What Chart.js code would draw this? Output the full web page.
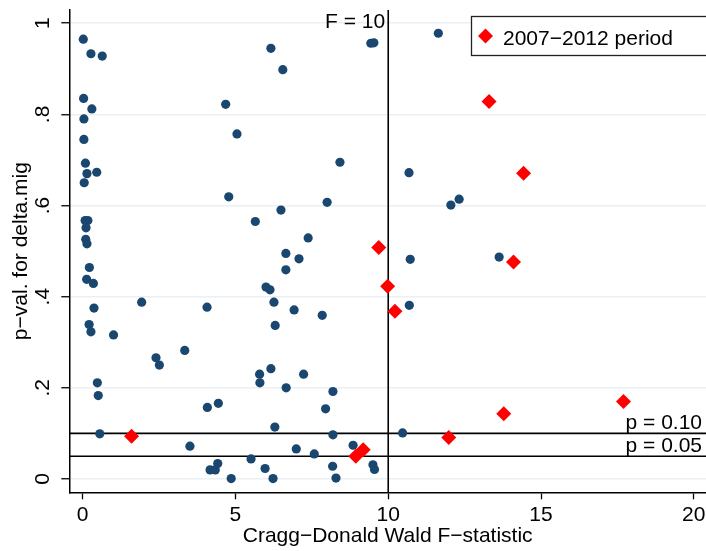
<!DOCTYPE html>
<html>
<head>
<meta charset="UTF-8">
<title>p-val vs Cragg-Donald F</title>
<script src="https://cdn.jsdelivr.net/npm/chart.js@4.4.0/dist/chart.umd.min.js"></script>
<style>
  body { margin: 0; background: #fff; }
  #wrap { width: 706px; height: 551px; }
</style>
</head>
<body>
<div id="wrap"><canvas id="chart" width="706" height="551"></canvas></div>
<script>
// all periods (navy dots)
const blueX = [0.02, 0.27, 0.64, 0.03, 0.30, 0.04, 0.04, 0.09, 0.14, 0.46, 0.05, 4.68, 5.05, 4.78,
  0.08, 0.17, 0.11, 0.10, 0.14, 0.22, 0.13, 0.35, 0.37, 0.21, 0.27, 1.01, 1.93, 0.48, 0.51, 0.56,
  2.40, 2.51, 3.34, 4.07, 4.08, 4.44, 3.51, 4.17, 4.34, 4.42, 4.86, 6.16, 6.55, 9.43, 9.53, 11.64,
  8.42, 10.68, 8.00, 6.49, 5.65, 7.38, 6.65, 7.08, 10.72, 6.65, 6.00, 6.13, 6.26, 10.69, 6.92, 7.84,
  6.30, 5.79, 6.16, 7.23, 5.80, 6.66, 8.19, 7.95, 6.29, 8.19, 10.47, 8.85, 6.99, 7.58, 5.51, 5.97,
  6.23, 8.18, 8.29, 9.50, 9.55, 12.05, 12.32, 13.63];
const blueY = [0.965, 0.933, 0.928, 0.835, 0.812, 0.790, 0.745, 0.693, 0.670, 0.673, 0.650, 0.822, 0.757, 0.619,
  0.567, 0.567, 0.551, 0.526, 0.516, 0.464, 0.438, 0.429, 0.375, 0.339, 0.323, 0.316, 0.388, 0.211, 0.183, 0.099,
  0.266, 0.250, 0.282, 0.377, 0.157, 0.166, 0.072, 0.020, 0.020, 0.034, 0.001, 0.945, 0.898, 0.956, 0.957, 0.978,
  0.695, 0.672, 0.607, 0.590, 0.565, 0.529, 0.495, 0.483, 0.482, 0.459, 0.421, 0.415, 0.388, 0.381, 0.371, 0.359,
  0.337, 0.230, 0.242, 0.230, 0.211, 0.200, 0.192, 0.154, 0.114, 0.097, 0.101, 0.074, 0.066, 0.055, 0.044, 0.023,
  0.001, 0.028, 0.002, 0.031, 0.021, 0.601, 0.614, 0.487];

// 2007-2012 period (red diamonds)
const redX = [1.60, 9.69, 9.98, 10.22, 8.94, 9.18, 13.30, 14.43, 14.10, 17.70, 13.78, 11.98];
const redY = [0.094, 0.508, 0.423, 0.368, 0.050, 0.064, 0.828, 0.671, 0.476, 0.170, 0.143, 0.091];

const xTicks = [0, 5, 10, 15, 20];
const yTicks = [0, 0.2, 0.4, 0.6, 0.8, 1];
const yTickLabels = ['0', '.2', '.4', '.6', '.8', '1'];

const refF = 10;
const refP = [0.10, 0.05];
const refPLabels = ['p = 0.10', 'p = 0.05'];

const xMin = -0.438, xMax = 20.40;
const yMin = -0.0292, yMax = 1.029;

const FONT = '"Liberation Sans", Arial, Helvetica, sans-serif';
Chart.defaults.font.family = FONT;
Chart.defaults.color = '#000';

const toPts = (xs, ys) => xs.map((v, i) => ({x: v, y: ys[i]}));

// F = 10 and p = .10 / .05 reference lines
const refLines = [
  {type: 'line', data: [{x: refF, y: yMin}, {x: refF, y: yMax}], borderColor: '#000', borderWidth: 1.6,
   pointRadius: 0, fill: false}
].concat(refP.map(p => ({
  type: 'line', data: [{x: xMin, y: p}, {x: xMax, y: p}], borderColor: '#000', borderWidth: 1.6,
  pointRadius: 0, fill: false
})));

const annot = {
  id: 'annot',
  afterDraw(chart) {
    const {ctx, chartArea} = chart;
    const x = chart.scales.x, y = chart.scales.y;
    ctx.save();
    ctx.font = '21px ' + FONT;
    ctx.fillStyle = '#000';
    ctx.textAlign = 'right';
    ctx.textBaseline = 'alphabetic';
    ctx.fillText('F = 10', x.getPixelForValue(refF) - 3, chartArea.top + 18);
    refP.forEach((p, i) => {
      ctx.fillText(refPLabels[i], chartArea.right - 4, y.getPixelForValue(p) - 4);
    });

    // legend box (runs off the right edge like the original)
    ctx.fillStyle = '#fff';
    ctx.fillRect(471.5, 16.5, 250, 39);
    ctx.strokeStyle = '#222';
    ctx.lineWidth = 1.3;
    ctx.strokeRect(471.5, 16.5, 250, 39);
    ctx.fillStyle = '#ff0000';
    ctx.beginPath();
    ctx.moveTo(485.5 - 7.5, 36);
    ctx.lineTo(485.5, 36 - 7.5);
    ctx.lineTo(485.5 + 7.5, 36);
    ctx.lineTo(485.5, 36 + 7.5);
    ctx.closePath();
    ctx.fill();
    ctx.fillStyle = '#000';
    ctx.textAlign = 'left';
    ctx.fillText('2007\u22122012 period', 503, 45);
    ctx.restore();
  }
};

new Chart(document.getElementById('chart'), {
  type: 'scatter',
  data: {
    datasets: [
      {label: '2007\u22122012 period', data: toPts(redX, redY), pointStyle: 'rectRot', pointRadius: 7.5,
       backgroundColor: '#ff0000', borderWidth: 0},
      {label: 'all', data: toPts(blueX, blueY), pointStyle: 'circle', pointRadius: 4.6,
       backgroundColor: '#1a476f', borderWidth: 0}
    ].concat(refLines)
  },
  options: {
    responsive: false,
    animation: false,
    layout: {autoPadding: false, padding: {top: 10, right: 0, left: 0, bottom: 0}},
    plugins: {legend: {display: false}, tooltip: {enabled: false}},
    scales: {
      x: {
        type: 'linear', min: xMin, max: xMax,
        afterBuildTicks: s => { s.ticks = xTicks.map(v => ({value: v})); },
        afterFit: s => { s.height = 58.7; s.paddingLeft = 0; s.paddingRight = 0; },
        grid: {drawOnChartArea: false, tickColor: '#000', tickLength: 7, tickWidth: 1.3},
        border: {color: '#000', width: 1.5},
        ticks: {font: {size: 21}, padding: 3, maxRotation: 0, autoSkip: false},
        title: {display: true, text: 'Cragg\u2212Donald Wald F\u2212statistic', font: {size: 21},
                padding: {top: 0, bottom: 2}}
      },
      y: {
        type: 'linear', min: yMin, max: yMax,
        afterBuildTicks: s => { s.ticks = yTicks.map(v => ({value: v})); },
        afterFit: s => { s.width = 69.3; s.paddingTop = 0; s.paddingBottom = 0; },
        grid: {color: '#eaf0f3', lineWidth: 1.5, tickColor: '#000', tickLength: 8, tickWidth: 1.3},
        border: {color: '#000', width: 1.5},
        ticks: {font: {size: 21}, padding: 9, minRotation: 90, maxRotation: 90, crossAlign: 'center',
                autoSkip: false, callback: (v, i) => yTickLabels[i]},
        title: {display: true, text: 'p\u2212val. for delta.mig', font: {size: 21},
                padding: {top: 9, bottom: 0}}
      }
    }
  },
  plugins: [annot]
});
</script>
</body>
</html>
